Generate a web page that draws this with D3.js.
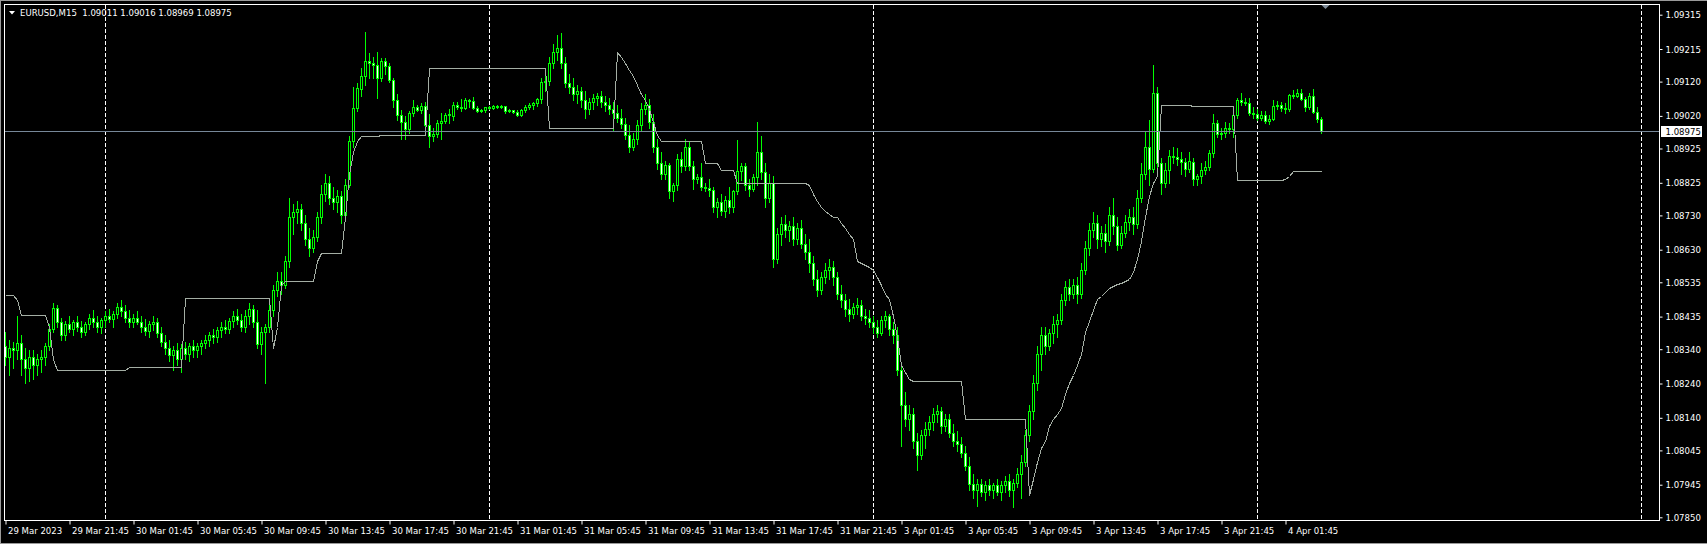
<!DOCTYPE html>
<html>
<head>
<meta charset="utf-8">
<script src="https://cdnjs.cloudflare.com/ajax/libs/d3/7.8.5/d3.min.js"></script>
<style>
  html, body { margin: 0; padding: 0; background: #000; }
  svg { display: block; }
  text { font-family: "DejaVu Sans Condensed", "DejaVu Sans", sans-serif; font-stretch: condensed; font-size: 9.5px; fill: #fff; }
</style>
</head>
<body>
<svg id="chart" width="1707" height="544"></svg>
<script>
// EURUSD M15 bars, 29 Mar 2023 17:45 .. 4 Apr 04:00 (one value per bar)
var opens = [
  1.08349,1.08318,1.08343,1.08337,1.08359,1.08311,1.08286,1.08318,1.08295,1.08311,1.08318,1.08349,1.08400,1.08460,1.08419,1.08381,
  1.08413,1.08400,1.08419,1.08406,1.08391,1.08413,1.08432,1.08419,1.08406,1.08425,1.08438,1.08429,1.08444,1.08463,1.08451,1.08432,
  1.08419,1.08432,1.08419,1.08406,1.08394,1.08413,1.08419,1.08387,1.08362,1.08343,1.08324,1.08337,1.08311,1.08343,1.08327,1.08349,
  1.08337,1.08349,1.08359,1.08368,1.08381,1.08375,1.08397,1.08406,1.08400,1.08422,1.08438,1.08425,1.08406,1.08438,1.08457,1.08419,
  1.08356,1.08391,1.08406,1.08454,1.08514,1.08540,1.08527,1.08597,1.08724,1.08739,1.08749,1.08708,1.08660,1.08635,1.08667,1.08724,
  1.08793,1.08825,1.08781,1.08768,1.08787,1.08730,1.08819,1.08946,1.09044,1.09098,1.09136,1.09180,1.09174,1.09168,1.09130,1.09180,
  1.09165,1.09126,1.09066,1.09022,1.09003,1.08981,1.09028,1.09047,1.09038,1.09050,1.08993,1.08962,1.08968,1.08999,1.09006,1.09022,
  1.09019,1.09053,1.09047,1.09044,1.09066,1.09063,1.09044,1.09034,1.09038,1.09047,1.09044,1.09050,1.09047,1.09049,1.09034,1.09036,
  1.09031,1.09022,1.09038,1.09047,1.09053,1.09057,1.09069,1.09120,1.09123,1.09174,1.09206,1.09218,1.09174,1.09117,1.09104,1.09085,
  1.09092,1.09066,1.09041,1.09060,1.09073,1.09079,1.09060,1.09053,1.09041,1.09028,1.09015,1.08996,1.08965,1.08930,1.08952,1.08993,
  1.09041,1.09053,1.09003,1.08930,1.08882,1.08850,1.08876,1.08800,1.08819,1.08895,1.08873,1.08930,1.08873,1.08835,1.08841,1.08812,
  1.08809,1.08803,1.08755,1.08768,1.08743,1.08774,1.08755,1.08800,1.08860,1.08873,1.08819,1.08806,1.08841,1.08914,1.08857,1.08781,
  1.08825,1.08603,1.08676,1.08705,1.08686,1.08698,1.08660,1.08692,1.08647,1.08622,1.08590,1.08546,1.08514,1.08549,1.08571,1.08581,
  1.08549,1.08501,1.08483,1.08457,1.08444,1.08463,1.08470,1.08438,1.08432,1.08419,1.08406,1.08387,1.08425,1.08438,1.08400,1.08381,
  1.08279,1.08178,1.08137,1.08152,1.08073,1.08032,1.08089,1.08108,1.08127,1.08152,1.08159,1.08115,1.08137,1.08096,1.08073,1.08064,
  1.08038,1.08000,1.07947,1.07931,1.07947,1.07924,1.07943,1.07931,1.07943,1.07924,1.07943,1.07956,1.07931,1.07950,1.07975,1.08010,
  1.08089,1.08159,1.08241,1.08327,1.08381,1.08349,1.08387,1.08413,1.08425,1.08483,1.08521,1.08501,1.08527,1.08501,1.08571,1.08635,
  1.08686,1.08708,1.08660,1.08679,1.08654,1.08730,1.08698,1.08644,1.08679,1.08711,1.08724,1.08705,1.08781,1.08850,1.08930,1.08866,
  1.09088,1.08882,1.08825,1.08863,1.08904,1.08901,1.08895,1.08885,1.08866,1.08885,1.08835,1.08844,1.08863,1.08870,1.08911,1.08999,
  1.08968,1.08971,1.08984,1.08981,1.09022,1.09066,1.09060,1.09057,1.09028,1.09025,1.09015,1.09022,1.09006,1.09012,1.09050,1.09053,
  1.09044,1.09041,1.09082,1.09079,1.09088,1.09069,1.09047,1.09079,1.09031,1.09011
];
var highs = [
  1.08391,1.08368,1.08362,1.08438,1.08381,1.08343,1.08337,1.08337,1.08327,1.08337,1.08359,1.08413,1.08476,1.08470,1.08432,1.08422,
  1.08438,1.08425,1.08438,1.08422,1.08419,1.08444,1.08454,1.08438,1.08432,1.08451,1.08457,1.08451,1.08476,1.08483,1.08470,1.08454,
  1.08444,1.08451,1.08438,1.08429,1.08422,1.08438,1.08432,1.08406,1.08381,1.08368,1.08349,1.08359,1.08356,1.08362,1.08359,1.08368,
  1.08359,1.08368,1.08381,1.08391,1.08400,1.08406,1.08419,1.08425,1.08432,1.08451,1.08457,1.08444,1.08454,1.08476,1.08470,1.08454,
  1.08406,1.08413,1.08470,1.08527,1.08565,1.08565,1.08613,1.08781,1.08762,1.08771,1.08762,1.08730,1.08692,1.08686,1.08739,1.08819,
  1.08850,1.08844,1.08812,1.08803,1.08800,1.08835,1.08962,1.09104,1.09117,1.09161,1.09266,1.09203,1.09193,1.09206,1.09190,1.09190,
  1.09174,1.09130,1.09085,1.09038,1.09019,1.09034,1.09066,1.09053,1.09057,1.09060,1.09025,1.08984,1.09009,1.09028,1.09028,1.09041,
  1.09060,1.09060,1.09069,1.09073,1.09069,1.09076,1.09050,1.09041,1.09047,1.09050,1.09053,1.09053,1.09053,1.09050,1.09041,1.09038,
  1.09038,1.09041,1.09053,1.09057,1.09060,1.09073,1.09130,1.09136,1.09193,1.09231,1.09256,1.09263,1.09193,1.09142,1.09130,1.09111,
  1.09104,1.09092,1.09073,1.09085,1.09088,1.09092,1.09079,1.09073,1.09060,1.09053,1.09041,1.09015,1.08993,1.08971,1.09009,1.09057,
  1.09085,1.09069,1.09025,1.08952,1.08914,1.08889,1.08882,1.08825,1.08908,1.08914,1.08952,1.08946,1.08889,1.08850,1.08882,1.08825,
  1.08835,1.08812,1.08781,1.08793,1.08787,1.08812,1.08803,1.08949,1.08882,1.08882,1.08835,1.08850,1.09003,1.08962,1.08882,1.08850,
  1.08844,1.08692,1.08724,1.08730,1.08714,1.08724,1.08708,1.08717,1.08676,1.08660,1.08613,1.08571,1.08565,1.08590,1.08603,1.08597,
  1.08565,1.08527,1.08501,1.08486,1.08476,1.08489,1.08483,1.08457,1.08454,1.08438,1.08425,1.08438,1.08451,1.08444,1.08419,1.08406,
  1.08295,1.08216,1.08178,1.08169,1.08096,1.08105,1.08127,1.08146,1.08169,1.08178,1.08172,1.08152,1.08152,1.08121,1.08102,1.08083,
  1.08057,1.08026,1.07975,1.07962,1.07962,1.07956,1.07962,1.07950,1.07962,1.07956,1.07969,1.07975,1.07962,1.07994,1.08032,1.08105,
  1.08178,1.08264,1.08349,1.08406,1.08406,1.08400,1.08438,1.08444,1.08501,1.08540,1.08546,1.08546,1.08549,1.08590,1.08654,1.08708,
  1.08739,1.08730,1.08698,1.08705,1.08755,1.08781,1.08724,1.08698,1.08730,1.08749,1.08755,1.08803,1.08882,1.08977,1.09009,1.09168,
  1.09104,1.08898,1.08882,1.08920,1.08930,1.08927,1.08914,1.08898,1.08914,1.08898,1.08850,1.08882,1.08889,1.08920,1.09025,1.09009,
  1.08984,1.09003,1.08999,1.09028,1.09073,1.09088,1.09073,1.09073,1.09047,1.09041,1.09034,1.09034,1.09022,1.09066,1.09063,1.09060,
  1.09057,1.09085,1.09095,1.09098,1.09098,1.09076,1.09088,1.09098,1.09047,1.09016
];
var lows = [
  1.08295,1.08264,1.08286,1.08311,1.08264,1.08241,1.08248,1.08254,1.08264,1.08273,1.08295,1.08337,1.08391,1.08406,1.08368,1.08368,
  1.08391,1.08381,1.08394,1.08375,1.08381,1.08400,1.08406,1.08391,1.08387,1.08406,1.08419,1.08406,1.08432,1.08438,1.08419,1.08406,
  1.08406,1.08413,1.08391,1.08381,1.08375,1.08397,1.08375,1.08349,1.08327,1.08305,1.08279,1.08295,1.08273,1.08311,1.08305,1.08318,
  1.08318,1.08327,1.08343,1.08349,1.08359,1.08362,1.08375,1.08387,1.08387,1.08406,1.08413,1.08394,1.08391,1.08413,1.08406,1.08343,
  1.08327,1.08241,1.08391,1.08438,1.08495,1.08501,1.08517,1.08581,1.08676,1.08708,1.08686,1.08644,1.08613,1.08622,1.08654,1.08708,
  1.08771,1.08762,1.08749,1.08739,1.08708,1.08717,1.08812,1.08930,1.09034,1.09079,1.09111,1.09130,1.09130,1.09073,1.09123,1.09142,
  1.09120,1.09047,1.09009,1.08952,1.08952,1.08971,1.09019,1.09034,1.09028,1.08990,1.08930,1.08946,1.08958,1.08952,1.08999,1.08999,
  1.09009,1.09041,1.09034,1.09041,1.09047,1.09041,1.09031,1.09031,1.09031,1.09041,1.09041,1.09044,1.09044,1.09028,1.09031,1.09028,
  1.09019,1.09019,1.09031,1.09041,1.09041,1.09050,1.09057,1.09092,1.09111,1.09161,1.09184,1.09161,1.09104,1.09088,1.09066,1.09057,
  1.09047,1.09015,1.09025,1.09041,1.09053,1.09047,1.09034,1.09025,1.08977,1.09003,1.08984,1.08952,1.08914,1.08920,1.08939,1.08977,
  1.09025,1.08984,1.08914,1.08866,1.08835,1.08835,1.08781,1.08771,1.08803,1.08857,1.08863,1.08863,1.08806,1.08825,1.08803,1.08800,
  1.08787,1.08739,1.08724,1.08730,1.08724,1.08736,1.08739,1.08793,1.08832,1.08803,1.08787,1.08800,1.08819,1.08835,1.08755,1.08768,
  1.08581,1.08590,1.08644,1.08667,1.08654,1.08644,1.08647,1.08635,1.08603,1.08565,1.08527,1.08495,1.08501,1.08533,1.08546,1.08527,
  1.08486,1.08463,1.08438,1.08422,1.08432,1.08444,1.08425,1.08413,1.08406,1.08387,1.08375,1.08381,1.08406,1.08381,1.08359,1.08264,
  1.08057,1.08115,1.08105,1.08051,1.07988,1.08019,1.08051,1.08089,1.08105,1.08127,1.08096,1.08102,1.08083,1.08057,1.08042,1.08026,
  1.07988,1.07931,1.07905,1.07883,1.07912,1.07899,1.07915,1.07905,1.07915,1.07899,1.07924,1.07912,1.07880,1.07937,1.07905,1.08000,
  1.08073,1.08137,1.08222,1.08279,1.08327,1.08337,1.08359,1.08375,1.08413,1.08470,1.08483,1.08489,1.08476,1.08489,1.08559,1.08616,
  1.08667,1.08635,1.08641,1.08622,1.08644,1.08676,1.08628,1.08635,1.08667,1.08686,1.08676,1.08692,1.08768,1.08835,1.08819,1.08857,
  1.08850,1.08793,1.08812,1.08825,1.08882,1.08876,1.08850,1.08844,1.08857,1.08819,1.08819,1.08825,1.08850,1.08863,1.08901,1.08958,
  1.08952,1.08958,1.08971,1.08958,1.09015,1.09053,1.09053,1.09022,1.09015,1.09009,1.09009,1.08999,1.08996,1.09009,1.09041,1.09034,
  1.09028,1.09034,1.09073,1.09076,1.09066,1.09034,1.09041,1.09028,1.09003,1.08969
];
var closes = [
  1.08318,1.08343,1.08337,1.08359,1.08311,1.08286,1.08318,1.08295,1.08311,1.08318,1.08349,1.08400,1.08460,1.08419,1.08381,1.08413,
  1.08400,1.08419,1.08406,1.08391,1.08413,1.08432,1.08419,1.08406,1.08425,1.08438,1.08429,1.08444,1.08463,1.08451,1.08432,1.08419,
  1.08432,1.08419,1.08406,1.08394,1.08413,1.08419,1.08387,1.08362,1.08343,1.08324,1.08337,1.08311,1.08343,1.08327,1.08349,1.08337,
  1.08349,1.08359,1.08368,1.08381,1.08375,1.08397,1.08406,1.08400,1.08422,1.08438,1.08425,1.08406,1.08438,1.08457,1.08419,1.08356,
  1.08391,1.08406,1.08454,1.08514,1.08540,1.08527,1.08597,1.08724,1.08739,1.08749,1.08708,1.08660,1.08635,1.08667,1.08724,1.08793,
  1.08825,1.08781,1.08768,1.08787,1.08730,1.08819,1.08946,1.09044,1.09101,1.09136,1.09180,1.09174,1.09168,1.09130,1.09180,1.09165,
  1.09126,1.09066,1.09022,1.09003,1.08981,1.09028,1.09047,1.09038,1.09050,1.08993,1.08962,1.08968,1.08999,1.09006,1.09022,1.09025,
  1.09053,1.09047,1.09044,1.09066,1.09063,1.09044,1.09034,1.09038,1.09047,1.09044,1.09050,1.09047,1.09049,1.09034,1.09036,1.09031,
  1.09022,1.09038,1.09047,1.09053,1.09057,1.09069,1.09120,1.09123,1.09174,1.09206,1.09218,1.09174,1.09117,1.09104,1.09085,1.09092,
  1.09066,1.09041,1.09060,1.09073,1.09079,1.09060,1.09053,1.09041,1.09028,1.09015,1.08996,1.08965,1.08930,1.08952,1.08993,1.09041,
  1.09053,1.09003,1.08930,1.08882,1.08850,1.08876,1.08800,1.08819,1.08895,1.08873,1.08930,1.08873,1.08835,1.08841,1.08812,1.08809,
  1.08803,1.08755,1.08768,1.08743,1.08774,1.08755,1.08800,1.08860,1.08873,1.08819,1.08806,1.08841,1.08914,1.08857,1.08781,1.08825,
  1.08603,1.08676,1.08705,1.08686,1.08698,1.08660,1.08692,1.08647,1.08622,1.08590,1.08546,1.08514,1.08549,1.08571,1.08581,1.08549,
  1.08501,1.08483,1.08457,1.08444,1.08463,1.08470,1.08438,1.08432,1.08419,1.08406,1.08387,1.08425,1.08438,1.08400,1.08381,1.08279,
  1.08178,1.08137,1.08152,1.08073,1.08032,1.08089,1.08108,1.08127,1.08152,1.08159,1.08115,1.08137,1.08096,1.08073,1.08064,1.08038,
  1.08000,1.07947,1.07931,1.07947,1.07924,1.07943,1.07931,1.07943,1.07924,1.07943,1.07956,1.07931,1.07950,1.07975,1.08010,1.08089,
  1.08159,1.08241,1.08327,1.08381,1.08349,1.08387,1.08413,1.08425,1.08483,1.08521,1.08501,1.08527,1.08501,1.08571,1.08635,1.08686,
  1.08708,1.08660,1.08679,1.08654,1.08730,1.08698,1.08644,1.08679,1.08711,1.08724,1.08705,1.08781,1.08850,1.08930,1.08866,1.09088,
  1.08882,1.08825,1.08863,1.08904,1.08901,1.08895,1.08885,1.08866,1.08889,1.08835,1.08844,1.08863,1.08870,1.08911,1.08999,1.08968,
  1.08971,1.08984,1.08981,1.09022,1.09066,1.09060,1.09057,1.09028,1.09025,1.09015,1.09022,1.09006,1.09012,1.09050,1.09053,1.09044,
  1.09041,1.09082,1.09079,1.09088,1.09069,1.09047,1.09079,1.09031,1.09011,1.08975
];
// grey step indicator, one value per bar
var stopLine = [
  1.08498,1.08498,1.08498,1.08483,1.08440,1.08440,1.08440,1.08440,1.08440,1.08440,1.08440,1.08406,1.08311,1.08279,1.08279,1.08279,
  1.08279,1.08279,1.08279,1.08279,1.08279,1.08279,1.08279,1.08279,1.08279,1.08279,1.08279,1.08279,1.08279,1.08279,1.08279,1.08289,
  1.08289,1.08289,1.08289,1.08289,1.08289,1.08289,1.08289,1.08289,1.08289,1.08289,1.08289,1.08289,1.08289,1.08489,1.08489,1.08489,
  1.08489,1.08489,1.08489,1.08489,1.08489,1.08489,1.08489,1.08489,1.08489,1.08489,1.08489,1.08489,1.08489,1.08489,1.08489,1.08489,
  1.08489,1.08489,1.08489,1.08343,1.08406,1.08527,1.08540,1.08540,1.08540,1.08540,1.08540,1.08540,1.08540,1.08540,1.08597,1.08619,
  1.08619,1.08619,1.08619,1.08619,1.08619,1.08724,1.08850,1.08914,1.08946,1.08960,1.08960,1.08960,1.08960,1.08960,1.08964,1.08964,
  1.08964,1.08964,1.08964,1.08964,1.08964,1.08964,1.08964,1.08964,1.08964,1.08964,1.09159,1.09159,1.09159,1.09159,1.09159,1.09159,
  1.09159,1.09159,1.09159,1.09159,1.09159,1.09159,1.09159,1.09159,1.09159,1.09159,1.09159,1.09159,1.09159,1.09159,1.09159,1.09159,
  1.09159,1.09159,1.09159,1.09159,1.09159,1.09159,1.09159,1.09159,1.08984,1.08984,1.08984,1.08984,1.08984,1.08984,1.08984,1.08984,
  1.08984,1.08984,1.08984,1.08984,1.08984,1.08984,1.08984,1.08984,1.08984,1.09206,1.09193,1.09174,1.09155,1.09136,1.09111,1.09085,
  1.09066,1.09041,1.09003,1.08965,1.08946,1.08946,1.08946,1.08946,1.08946,1.08946,1.08946,1.08946,1.08946,1.08946,1.08946,1.08882,
  1.08882,1.08882,1.08882,1.08863,1.08863,1.08863,1.08863,1.08825,1.08825,1.08825,1.08825,1.08825,1.08825,1.08825,1.08825,1.08825,
  1.08825,1.08825,1.08825,1.08825,1.08825,1.08825,1.08825,1.08825,1.08825,1.08819,1.08793,1.08771,1.08755,1.08743,1.08733,1.08724,
  1.08724,1.08708,1.08692,1.08676,1.08660,1.08597,1.08590,1.08584,1.08581,1.08571,1.08549,1.08527,1.08501,1.08486,1.08438,1.08375,
  1.08295,1.08273,1.08254,1.08248,1.08248,1.08248,1.08248,1.08248,1.08248,1.08248,1.08248,1.08248,1.08248,1.08248,1.08248,1.08248,
  1.08137,1.08137,1.08137,1.08137,1.08137,1.08137,1.08137,1.08137,1.08137,1.08137,1.08137,1.08137,1.08137,1.08137,1.08137,1.08137,
  1.07915,1.07962,1.08010,1.08051,1.08073,1.08115,1.08137,1.08152,1.08169,1.08210,1.08241,1.08264,1.08295,1.08327,1.08391,1.08422,
  1.08454,1.08486,1.08495,1.08508,1.08517,1.08524,1.08530,1.08533,1.08540,1.08546,1.08565,1.08603,1.08654,1.08724,1.08787,1.08825,
  1.08844,1.09052,1.09052,1.09052,1.09052,1.09052,1.09052,1.09052,1.09052,1.09049,1.09049,1.09049,1.09049,1.09049,1.09049,1.09049,
  1.09049,1.09049,1.09049,1.09049,1.08832,1.08832,1.08832,1.08832,1.08832,1.08832,1.08832,1.08832,1.08832,1.08832,1.08832,1.08832,
  1.08835,1.08844,1.08860,1.08860,1.08860,1.08860,1.08860,1.08860,1.08860,1.08860
];

var priceTicks = [1.09315, 1.09215, 1.09120, 1.09020, 1.08925, 1.08825, 1.08730, 1.08630,
                  1.08535, 1.08435, 1.08340, 1.08240, 1.08140, 1.08045, 1.07945, 1.07850];
var timeLabels = ["29 Mar 2023", "29 Mar 21:45", "30 Mar 01:45", "30 Mar 05:45", "30 Mar 09:45",
                  "30 Mar 13:45", "30 Mar 17:45", "30 Mar 21:45", "31 Mar 01:45", "31 Mar 05:45",
                  "31 Mar 09:45", "31 Mar 13:45", "31 Mar 17:45", "31 Mar 21:45", "3 Apr 01:45",
                  "3 Apr 05:45", "3 Apr 09:45", "3 Apr 13:45", "3 Apr 17:45", "3 Apr 21:45", "4 Apr 01:45"];
var labelEvery = 16;                        // bars between time labels
var daySeparators = [25, 121, 217, 313, 409]; // bar index of each 00:00
var bidPrice = 1.08975;
var title = "EURUSD,M15  1.09011 1.09016 1.08969 1.08975";

var svg = d3.select("#chart");
var W = 1707, H = 544;
var frame = { left: 4.5, top: 4.5, right: 1659.5, bottom: 520.5 };

var x = d3.scaleLinear().domain([0, 409]).range([5.5, 1641.5]);
var y = d3.scaleLinear().domain([1.07850, 1.09315]).range([517.3, 14.7]);
function row(v) { return Math.round(y(v)); }

svg.append("rect").attr("width", W).attr("height", H).attr("fill", "#000");

// window edges
var edges = svg.append("g").attr("stroke", "#9a9a9a").attr("shape-rendering", "crispEdges");
edges.append("line").attr("x1", 0).attr("x2", W).attr("y1", 0.5).attr("y2", 0.5);
edges.append("line").attr("x1", 0.5).attr("x2", 0.5).attr("y1", 0).attr("y2", H);
edges.append("line").attr("x1", 0).attr("x2", W).attr("y1", H - 0.5).attr("y2", H - 0.5);

// period separators
svg.append("g").selectAll("line").data(daySeparators).enter().append("line")
  .attr("x1", d => x(d)).attr("x2", d => x(d))
  .attr("y1", frame.top).attr("y2", frame.bottom)
  .attr("stroke", "#fff").attr("stroke-dasharray", "4,2")
  .attr("shape-rendering", "crispEdges");

var bars = d3.range(closes.length);
var g = svg.append("g").attr("shape-rendering", "crispEdges");

// wicks
g.selectAll("line.wick").data(bars).enter().append("line")
  .attr("class", "wick")
  .attr("x1", i => x(i)).attr("x2", i => x(i))
  .attr("y1", i => row(highs[i])).attr("y2", i => row(lows[i]) + 1)
  .attr("stroke", "#00ff00");

// bodies
bars.forEach(function (i) {
  var top = row(Math.max(opens[i], closes[i]));
  var bot = row(Math.min(opens[i], closes[i]));
  if (bot - top < 1) {
    g.append("line")
      .attr("x1", x(i) - 1.5).attr("x2", x(i) + 1.5)
      .attr("y1", top + 0.5).attr("y2", top + 0.5)
      .attr("stroke", "#00ff00");
  } else {
    g.append("rect")
      .attr("x", x(i) - 1).attr("y", top + 0.5)
      .attr("width", 2).attr("height", bot - top)
      .attr("fill", closes[i] < opens[i] ? "#fff" : "#000")
      .attr("stroke", "#00ff00");
  }
});

// indicator line
svg.append("path")
  .datum(stopLine)
  .attr("d", d3.line().x((d, i) => x(i)).y(d => row(d) + 0.5))
  .attr("fill", "none").attr("stroke", "#a4aea4").attr("stroke-width", 1)
  .attr("shape-rendering", "crispEdges");

// bid line
var bidY = row(bidPrice) + 0.5;
svg.append("line")
  .attr("x1", frame.left).attr("x2", frame.right)
  .attr("y1", bidY).attr("y2", bidY)
  .attr("stroke", "#778899").attr("shape-rendering", "crispEdges");

// frame
svg.append("rect")
  .attr("x", frame.left).attr("y", frame.top)
  .attr("width", frame.right - frame.left).attr("height", frame.bottom - frame.top)
  .attr("fill", "none").attr("stroke", "#fff").attr("shape-rendering", "crispEdges");

// chart shift marker
var sx = x(closes.length);
svg.append("path")
  .attr("d", "M" + (sx - 4) + "," + 5 + "L" + (sx + 4) + "," + 5 + "L" + sx + "," + 9 + "Z")
  .attr("fill", "#7f8c99");

// price axis
var yAxis = svg.append("g")
  .attr("transform", "translate(" + frame.right + ",0)")
  .call(d3.axisRight(y).tickValues(priceTicks).tickFormat(d3.format(".5f")).tickSize(3).tickPadding(3));
yAxis.select(".domain").remove();
yAxis.selectAll("line").attr("stroke", "#fff");
yAxis.selectAll("text").attr("fill", "#fff").style("font-size", "9.5px").style("font-family", null);

// bid label
svg.append("rect")
  .attr("x", 1661).attr("y", bidY - 5.5).attr("width", 41).attr("height", 11)
  .attr("fill", "#fff");
svg.append("text")
  .attr("x", 1665.5).attr("y", bidY + 3.5)
  .style("fill", "#000")
  .text(d3.format(".5f")(bidPrice));

// time axis
var labelBars = timeLabels.map((d, i) => i * labelEvery);
var xAxis = svg.append("g")
  .attr("transform", "translate(0," + frame.bottom + ")")
  .call(d3.axisBottom(x).tickValues(labelBars).tickFormat((d, i) => timeLabels[i]).tickSize(4).tickPadding(3));
xAxis.select(".domain").remove();
xAxis.selectAll("line").attr("stroke", "#fff");
xAxis.selectAll("text").attr("fill", "#fff").attr("text-anchor", "start").attr("x", 2)
  .style("font-size", "9.5px").style("font-family", null);

// header
svg.append("path").attr("d", "M9,11L15,11L12,14.5Z").attr("fill", "#fff");
svg.append("text")
  .attr("x", 20).attr("y", 16)
  .style("white-space", "pre")
  .text(title);
</script>
</body>
</html>
